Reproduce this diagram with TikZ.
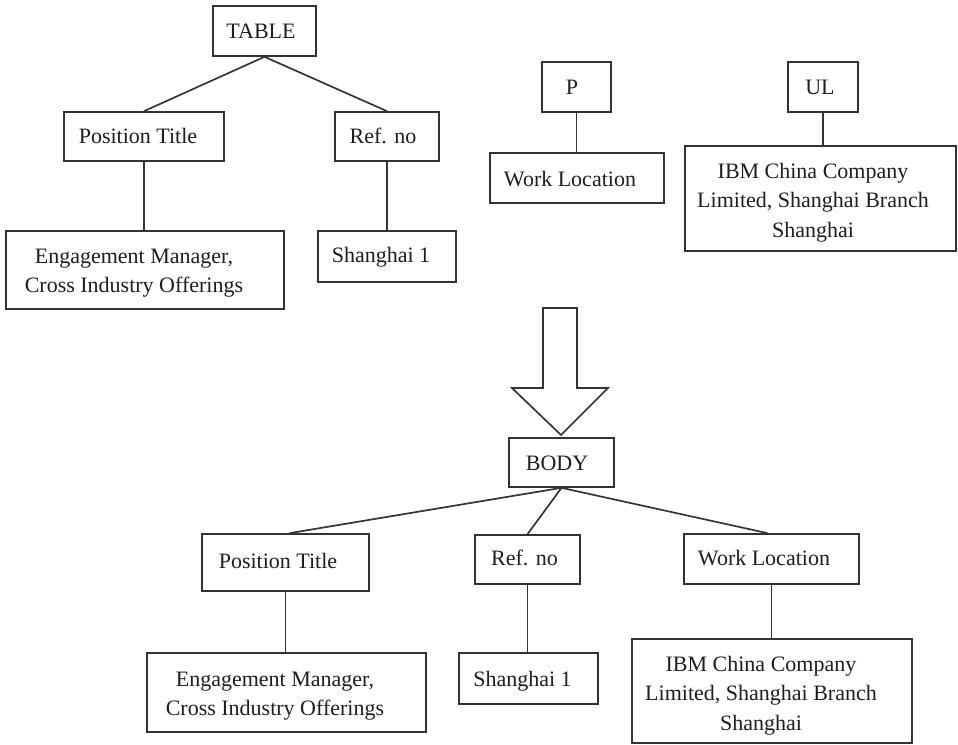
\documentclass[tikz,border=0pt]{standalone}
\usepackage{fontspec}
\setmainfont{Liberation Serif}
\definecolor{ink}{HTML}{1E1E1E}
\definecolor{rule}{HTML}{333333}
\begin{document}
\begin{tikzpicture}[x=0.75pt,y=-0.75pt,
  box/.style={draw=rule,line width=1.25pt,inner sep=0pt,fill=none},
  txt/.style={text=ink,inner sep=0pt,font=\fontsize{16.5}{22}\selectfont,
              text height=10.9pt,text depth=0pt},
  mtxt/.style={text=ink,inner sep=0pt,font=\fontsize{16.5}{22}\selectfont,align=center},
  link/.style={draw=rule,line width=1.25pt}]
\useasboundingbox[fill=white] (0,0) rectangle (958,745);

% ---------- upper left: TABLE tree ----------
\node[box,minimum width=103*0.75pt,minimum height=50*0.75pt] (table) at (264.5,31) {};
\node[txt] (tablet) at (261,31) {TABLE};
\node[box,minimum width=160*0.75pt,minimum height=49*0.75pt] (pt1) at (144,136.5) {};
\node[txt] (pt1t) at (138,136.5) {Position Title};
\node[box,minimum width=104*0.75pt,minimum height=49*0.75pt] (ref1) at (387,136.5) {};
\node[txt] (ref1t) at (383,136.5) {Ref. no};
\node[box,minimum width=278*0.75pt,minimum height=78*0.75pt] (eng1) at (145,270) {};
\node[mtxt] (eng1t) at (134,273) {Engagement Manager,\\Cross Industry Offerings};
\node[box,minimum width=138*0.75pt,minimum height=51*0.75pt] (sh1) at (387,256.5) {};
\node[txt] (sh1t) at (381,255.5) {Shanghai 1};

\draw[link] (table.south) -- (pt1.north);
\draw[link] (table.south) -- (ref1.north);
\draw[link] (pt1.south) -- (pt1.south |- eng1.north);
\draw[link] (ref1.south) -- (sh1.north);

% ---------- upper middle: P tree ----------
\node[box,minimum width=69*0.75pt,minimum height=50*0.75pt] (p) at (576.5,87) {};
\node[txt] (pt) at (572,87.5) {P};
\node[box,minimum width=174*0.75pt,minimum height=50*0.75pt] (wl1) at (577,178) {};
\node[txt] (wl1t) at (570,179) {Work Location};
\draw[link] (p.south) -- (p.south |- wl1.north);

% ---------- upper right: UL tree ----------
\node[box,minimum width=70*0.75pt,minimum height=50*0.75pt] (ul) at (823,87) {};
\node[txt] (ult) at (820,87.5) {UL};
\node[box,minimum width=271*0.75pt,minimum height=105*0.75pt] (ibm1) at (820.5,198.5) {};
\node[mtxt] (ibm1t) at (813,202.5) {IBM China Company\\Limited, Shanghai Branch\\Shanghai};
\draw[link] (ul.south) -- (ul.south |- ibm1.north);

% ---------- transformation arrow ----------
\draw[draw=rule,line width=1.25pt,line join=miter,fill=white]
  (543,308) -- (577,308) -- (577,388) -- (608,388) -- (561,435)
  -- (512,388) -- (543,388) -- cycle;

% ---------- lower: BODY tree ----------
\node[box,minimum width=105*0.75pt,minimum height=49*0.75pt] (body) at (561.5,462.5) {};
\node[txt] (bodyt) at (557,463) {BODY};
\node[box,minimum width=167*0.75pt,minimum height=57*0.75pt] (pt2) at (285.5,562.5) {};
\node[txt] (pt2t) at (278,561.5) {Position Title};
\node[box,minimum width=105*0.75pt,minimum height=49*0.75pt] (ref2) at (527.5,559.5) {};
\node[txt] (ref2t) at (524.5,558.5) {Ref. no};
\node[box,minimum width=175*0.75pt,minimum height=50*0.75pt] (wl2) at (771.5,559) {};
\node[txt] (wl2t) at (764,558.5) {Work Location};
\node[box,minimum width=279*0.75pt,minimum height=79*0.75pt] (eng2) at (286.5,692.5) {};
\node[mtxt] (eng2t) at (275,696) {Engagement Manager,\\Cross Industry Offerings};
\node[box,minimum width=139*0.75pt,minimum height=51*0.75pt] (sh2) at (528.5,678.5) {};
\node[txt] (sh2t) at (522.5,679.5) {Shanghai 1};
\node[box,minimum width=280*0.75pt,minimum height=104*0.75pt] (ibm2) at (772,691) {};
\node[mtxt] (ibm2t) at (761,695.5) {IBM China Company\\Limited, Shanghai Branch\\Shanghai};

\draw[link] (body.south) -- ([xshift=3pt]pt2.north);
\draw[link] (body.south) -- (ref2.north);
\draw[link] (body.south) -- ([xshift=-3pt]wl2.north);
\draw[link] (pt2.south) -- (pt2.south |- eng2.north);
\draw[link] (ref2.south) -- (ref2.south |- sh2.north);
\draw[link] (wl2.south) -- (wl2.south |- ibm2.north);
\end{tikzpicture}
\end{document}
